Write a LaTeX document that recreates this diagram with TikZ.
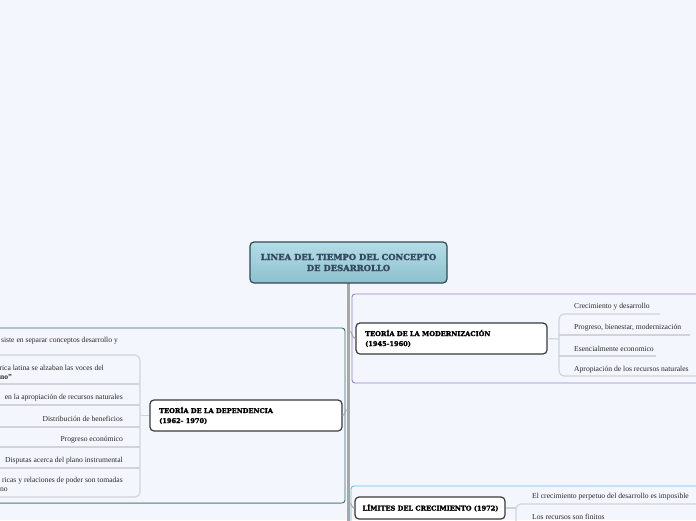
\documentclass[tikz,border=0pt]{standalone}
\usepackage{fontspec}
\setmainfont{Liberation Serif}
\newfontfamily\headfont[FakeBold=2]{DejaVu Serif Bold}
\definecolor{bgc}{HTML}{F3F6FD}
\definecolor{trunkc}{HTML}{A8A8A8}
\definecolor{cenTop}{HTML}{B4DDE7}
\definecolor{cenBot}{HTML}{8DC0CD}
\definecolor{cenBorder}{HTML}{2F4A55}
\definecolor{cenText}{HTML}{34495E}
\definecolor{purp}{HTML}{9186CC}
\definecolor{tealc}{HTML}{3A6C67}
\definecolor{bluec}{HTML}{6BBEE8}
\definecolor{brk}{HTML}{D2D3DA}
\definecolor{nodeb}{HTML}{3A3A3A}
\definecolor{txt}{HTML}{2A2A2A}
\tikzset{
  topic/.style={draw=nodeb, line width=1.2pt, fill=white, rounded corners=4pt, inner sep=0pt},
  headtxt/.style={font=\headfont\fontsize{6.6}{10}\selectfont, text=black, align=left},
  leaf/.style={font=\fontsize{7.6}{9}\selectfont, text=txt, inner sep=0pt},
  brline/.style={draw=brk, line width=1.1pt},
  frame/.style={line width=0.9pt, rounded corners=3pt},
  conn/.style={draw=trunkc, line width=1pt}
}
\begin{document}
\begin{tikzpicture}[x=1pt,y=-1pt]
\fill[bgc] (0,0) rectangle (696,520);
\useasboundingbox (0,0) rectangle (696,520);
\begin{scope}
\clip (0,0) rectangle (696,520);
% frames
\draw[frame, draw=tealc] (-10,328) rectangle (345,503);
\draw[tealc!60!white, line width=1.6pt] (-10,503.5) -- (341,503.5);
\draw[frame, draw=purp] (352,294) rectangle (712,383);
\draw[frame, draw=bluec] (351,486) rectangle (712,540);
% trunk
\coordinate (tTop) at (348,283);
\coordinate (tBot) at (348,521);
\draw[trunkc, line width=3pt] (tTop) -- (tBot);
\coordinate (tMod) at (349,331);
\coordinate (tDep) at (347,410);
\coordinate (tLim) at (349,503);
% central node
\node[draw=cenBorder, line width=1.2pt, rounded corners=4pt, top color=cenTop, bottom color=cenBot,
      minimum width=197pt, minimum height=41pt, inner sep=0pt,
      font=\headfont\fontsize{8.4}{11}\selectfont, text=cenText, align=center]
      (central) at (348.5,262.5) {LINEA DEL TIEMPO DEL CONCEPTO\\DE DESARROLLO};
% topic nodes
\node[topic, minimum width=191pt, minimum height=31pt] (mod) at (451.5,338.5) {};
\node[headtxt, anchor=west, inner sep=0pt] (modt) at (365,338.5) {TEORÍA DE LA MODERNIZACIÓN\\(1945-1960)};
\node[topic, minimum width=192pt, minimum height=31pt] (dep) at (246,415.5) {};
\node[headtxt, anchor=west, inner sep=0pt] (dept) at (159,415.5) {TEORÍA DE LA DEPENDENCIA\\(1962- 1970)};
\node[topic, minimum width=150pt, minimum height=22pt] (lim) at (430,508) {};
\node[headtxt, inner sep=0pt] (limt) at (430.5,508) {LÍMITES DEL CRECIMIENTO (1972)};
% trunk connectors
\draw[conn] (tMod) to[out=0,in=180] (mod.west);
\draw[conn] (dep.east) to[out=0,in=180] (tDep);
\draw[conn] (tLim) to[out=0,in=180] (lim.west);
% modernizacion bracket
\coordinate (mB) at (559,339);
\coordinate (m1a) at (559,314); \coordinate (m1b) at (660,314);
\coordinate (m2a) at (559,335); \coordinate (m2b) at (690,335);
\coordinate (m3a) at (559,356); \coordinate (m3b) at (656,356);
\coordinate (m4a) at (559,376); \coordinate (m4b) at (700,376);
\draw[brline] (mod.east) -- (mB);
\draw[brline, rounded corners=5pt] (m1b) -- (m1a) -- (m4a) -- (m4b);
\draw[brline] (m2a) -- (m2b);
\draw[brline] (m3a) -- (m3b);
\node[leaf, anchor=west] (ml1) at (574,307) {Crecimiento y desarrollo};
\node[leaf, anchor=west] (ml2) at (574,328) {Progreso, bienestar, modernización};
\node[leaf, anchor=west] (ml3) at (574,349) {Esencialmente economico};
\node[leaf, anchor=west] (ml4) at (574,370) {Apropiación de los recursos naturales};
% dependencia bracket
\coordinate (dB) at (140,415.5);
\coordinate (d1a) at (140,355); \coordinate (d1b) at (-5,355);
\coordinate (d2a) at (140,384); \coordinate (d2b) at (-5,384);
\coordinate (d3a) at (140,405); \coordinate (d3b) at (-5,405);
\coordinate (d4a) at (140,427); \coordinate (d4b) at (-5,427);
\coordinate (d5a) at (140,447); \coordinate (d5b) at (-5,447);
\coordinate (d6a) at (140,468); \coordinate (d6b) at (-5,468);
\coordinate (d7a) at (140,497); \coordinate (d7b) at (-5,497);
\draw[brline] (dep.west) -- (dB);
\draw[brline, rounded corners=5pt] (d1b) -- (d1a) -- (d7a) -- (d7b);
\foreach \i in {2,...,6} \draw[brline] (d\i a) -- (d\i b);
\node[leaf, anchor=east] (dl1) at (118,341) {siste en separar conceptos desarrollo y};
\node[leaf, anchor=east] (dl2) at (104,368) {rica latina se alzaban las voces del};
\node[leaf, anchor=west, font=\bfseries\fontsize{7.6}{9}\selectfont] (dl2b) at (0,377) {no”};
\node[leaf, anchor=east] (dl3) at (123,398) {en la apropiación de recursos naturales};
\node[leaf, anchor=east] (dl4) at (123,419) {Distribución de beneficios};
\node[leaf, anchor=east] (dl5) at (123,440) {Progreso económico};
\node[leaf, anchor=east] (dl6) at (123,461) {Disputas acerca del plano instrumental};
\node[leaf, anchor=east] (dl7) at (123,481) {ricas y relaciones de poder son tomadas};
\node[leaf, anchor=west] (dl7b) at (0,490) {no};
% limites bracket
\coordinate (lB) at (516,508);
\coordinate (l1a) at (516,504); \coordinate (l1b) at (700,504);
\coordinate (l2a) at (516,530);
\draw[brline] (lim.east) -- (lB);
\draw[brline, rounded corners=5pt] (l1b) -- (l1a) -- (l2a);
\node[leaf, anchor=west] (ll1) at (532,497) {El crecimiento perpetuo del desarrollo es imposible};
\node[leaf, anchor=west] (ll2) at (532,517) {Los recursos son finitos};
\end{scope}
\end{tikzpicture}
\end{document}
